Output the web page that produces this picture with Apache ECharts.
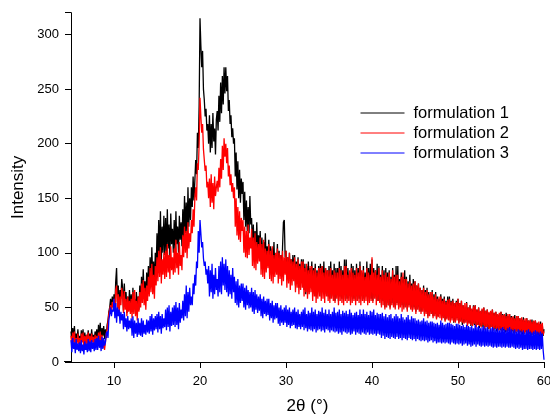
<!DOCTYPE html>
<html>
<head>
<meta charset="utf-8">
<script src="https://cdn.jsdelivr.net/npm/echarts@6/dist/echarts.min.js"></script>
<style>html,body{margin:0;padding:0;background:#fff}#c{width:550px;height:414px}</style>
</head>
<body>
<div id="c"></div>
<script>
// scan: 2θ from 5° to 60°, step 0.1° (10 readings per degree, one row per 5°)
const scanStart = 5;
const scanStep = 0.1;

const formulation1 = [
 28,18,31,22,33,17,26,20,30,19, 24,16,29,21,30,15,27,19,25,17, 29,18,26,17,30,21,25,19,28,22, 30,19,34,23,36,18,31,24,33,21, 30,22,34,38,46,50,58,49,60,52,
 62,51,74,86,55,70,50,66,58,76, 68,47,72,52,64,45,60,50,66,48, 62,46,68,50,58,45,64,52,60,48, 70,54,78,58,85,62,74,56,82,66, 88,66,96,72,105,76,92,70,100,84,
 118,90,130,96,138,92,124,100,134,98, 132,98,140,104,126,96,136,108,122,100, 130,102,138,108,124,100,134,112,128,106, 140,114,152,118,146,112,160,124,150,130, 160,142,170,148,166,185,172,210,196,235,
 315,290,270,285,250,240,225,232,212,218, 200,226,192,218,196,228,202,214,190,222, 230,212,244,220,256,228,262,236,270,246, 270,248,262,230,240,218,226,206,214,200, 205,170,192,158,184,150,176,146,168,154,
 165,130,156,124,148,120,142,118,152,126, 132,104,126,100,120,98,128,102,116,106, 120,92,114,88,110,96,118,90,106,94, 112,84,106,80,104,88,110,82,98,86, 108,80,102,84,98,78,106,128,130,96,
 102,78,96,74,100,80,94,76,98,82, 98,70,92,74,96,68,90,72,94,76, 94,66,90,62,88,70,92,64,86,68, 92,62,86,66,90,60,84,64,88,66, 90,60,88,64,92,62,86,66,84,60,
 88,58,92,62,84,60,90,56,86,64, 86,56,92,60,88,58,84,62,94,58, 94,58,86,62,82,56,90,60,88,58, 84,56,90,60,86,58,92,62,82,56, 88,58,82,60,92,56,86,62,90,58,
 94,56,86,60,84,58,90,56,88,60, 80,52,88,56,84,50,86,54,82,52, 84,50,78,54,86,52,80,50,88,54, 88,50,76,54,82,52,78,50,84,52, 78,48,74,52,80,50,72,48,76,50,
 74,46,70,50,72,48,68,46,66,50, 70,44,66,46,68,42,64,46,62,44, 66,42,62,44,64,40,60,42,58,44, 62,40,58,42,60,38,56,40,60,42, 60,38,56,40,58,36,54,38,56,40,
 58,36,54,38,56,34,52,36,50,38, 55,34,50,36,52,33,48,35,52,34, 52,32,48,34,50,31,46,33,48,32, 50,30,47,32,48,30,45,31,46,32, 48,29,45,30,46,28,44,30,43,29,
 46,28,44,29,43,27,45,28,42,29, 44,27,42,28,41,26,43,27,40,28, 42,26,40,27,39,25,41,26,38,27, 40,25,38,26,38,24,39,25,37,26, 38,23,36,24,35,22,37,23,34,24,
 30
];
const formulation2 = [
 24,15,27,18,28,14,22,17,26,16, 22,14,26,18,27,13,24,16,25,15, 27,16,24,14,26,18,23,15,25,17, 24,15,27,18,28,14,25,13,20,11, 18,26,30,36,44,48,52,46,55,50,
 58,46,66,70,48,62,44,60,52,68, 62,45,65,48,58,42,60,46,56,44, 58,40,64,44,66,42,56,38,60,46, 64,50,72,54,75,52,68,48,70,56, 78,60,86,64,90,62,80,58,88,70,
 96,74,102,78,105,72,94,80,100,76, 102,78,108,82,98,76,106,84,96,80, 104,82,112,86,100,80,110,88,98,84, 116,96,124,100,120,95,128,104,118,110, 130,118,140,124,150,160,148,182,176,200,
 242,225,210,218,195,185,175,180,160,165, 150,168,142,172,146,164,140,170,152,160, 166,156,178,160,186,168,198,176,205,188, 200,182,196,170,180,162,172,156,164,150, 160,124,150,116,142,112,138,110,132,120,
 130,100,124,96,120,95,126,98,114,104, 122,88,114,86,118,84,110,90,108,92, 114,80,108,78,112,76,104,82,102,86, 108,76,102,74,106,72,98,78,100,80, 104,72,100,76,98,70,102,74,96,80,
 102,68,96,72,100,66,94,70,92,74, 96,64,90,68,94,62,88,66,92,68, 92,60,86,64,90,58,84,62,88,64, 88,56,84,60,86,54,82,58,86,60, 86,56,88,58,82,54,86,60,84,56,
 84,54,86,58,80,56,84,54,82,58, 82,52,86,56,84,54,80,52,88,56, 88,54,80,56,84,52,86,54,82,56, 80,52,86,56,82,54,88,52,84,56, 84,54,78,56,86,52,82,54,80,56,
 96,54,82,58,84,52,80,56,86,54, 78,50,84,52,80,48,82,50,78,52, 82,48,76,52,84,50,78,48,80,52, 80,48,74,50,78,46,82,48,76,50, 76,46,72,50,74,48,70,46,72,48,
 74,44,70,48,72,46,68,44,66,46, 68,42,64,44,66,40,62,42,64,44, 64,40,60,42,62,39,58,41,60,40, 60,38,56,40,58,37,55,39,57,38, 58,36,55,38,56,37,54,36,55,38,
 58,35,54,37,56,36,52,35,54,36, 54,33,50,35,52,34,49,33,51,35, 52,32,48,34,50,33,47,32,49,34, 50,30,47,32,48,31,46,30,47,32, 48,29,45,31,46,30,44,29,45,30,
 46,28,43,30,44,29,42,28,44,29, 44,27,41,29,42,28,40,27,42,28, 42,26,40,28,41,27,39,26,40,27, 40,25,38,27,39,26,37,25,38,26, 38,25,36,26,37,25,35,26,36,25,
 28
];
const formulation3 = [
 20,9,22,12,18,8,21,11,17,10, 18,8,20,10,16,7,19,11,17,9, 21,10,19,9,20,12,18,10,21,11, 22,11,24,13,20,10,23,12,22,15, 18,26,28,22,38,44,50,42,48,46,
 58,40,54,36,50,42,48,35,46,38, 44,30,46,32,40,28,42,30,38,31, 40,24,42,22,38,26,36,23,40,25, 36,24,40,23,38,26,34,25,39,27, 38,26,42,28,44,25,40,29,42,30,
 44,27,46,30,42,26,44,31,40,32, 48,29,50,32,52,28,46,33,50,34, 52,32,55,34,50,30,54,36,48,40, 56,38,62,42,70,40,64,46,68,52, 60,52,72,62,80,70,92,86,120,100,
 130,118,105,110,95,88,92,80,85,72, 88,60,84,64,90,58,80,62,86,66, 76,60,88,64,92,62,96,70,90,66, 94,64,88,60,84,62,80,58,86,64, 78,54,74,52,76,50,70,54,72,56,
 72,50,68,48,70,52,66,49,64,50, 68,46,64,44,66,48,62,45,60,47, 62,42,58,40,60,44,56,42,58,43, 58,38,54,40,56,36,52,39,54,40, 54,35,50,33,52,36,48,34,50,36,
 52,32,48,34,50,31,46,33,48,34, 50,31,46,30,48,32,44,30,46,32, 48,29,50,31,44,28,47,30,45,29, 50,28,46,30,48,27,44,29,47,30, 46,28,50,29,45,27,48,30,44,29,
 48,27,44,29,46,28,50,27,45,28, 46,26,48,27,44,25,47,28,45,27, 47,26,44,27,48,25,45,26,43,28, 45,25,46,27,43,26,48,25,44,27, 48,26,44,25,46,27,43,25,47,26,
 46,25,48,26,43,24,45,26,44,25, 44,22,45,24,42,21,44,23,41,22, 43,21,44,23,40,22,42,21,44,23, 42,21,40,22,44,20,41,22,39,21, 41,20,43,22,39,21,42,20,40,21,
 40,19,38,21,39,20,37,19,38,20, 40,19,37,20,38,18,36,19,37,20, 37,18,36,19,35,17,36,18,34,18, 38,17,36,18,34,17,35,18,36,17, 36,16,35,18,34,17,33,16,35,17,
 35,16,34,17,33,15,34,16,32,17, 34,15,33,16,32,14,33,15,31,16, 34,14,32,16,33,15,31,14,32,15, 33,14,31,15,32,14,30,15,31,14, 32,13,31,14,30,13,31,14,29,14,
 31,13,32,14,30,13,29,14,31,13, 32,13,30,14,29,13,30,12,28,13, 30,12,29,13,28,11,29,12,27,12, 29,11,30,12,28,12,27,11,28,12, 29,11,28,12,27,11,28,12,26,11,
 2
];

const seriesNames = ['formulation 1', 'formulation 2', 'formulation 3'];
const seriesColors = ['#000000', '#ff0000', '#0000ff'];
const xTicks = [10, 20, 30, 40, 50, 60];

const allData = [formulation1, formulation2, formulation3];
const toPairs = arr => arr.map((v, i) => [scanStart + i * scanStep, v]);

const FONT = '"Liberation Sans", Arial, sans-serif';
const chart = echarts.init(document.getElementById('c'), null, {renderer: 'canvas'});
chart.setOption({
  animation: false,
  backgroundColor: '#fff',
  grid: {left: 71, right: 6, top: 12.7, bottom: 52, containLabel: false, outerBoundsMode: 'none'},
  legend: {
    orient: 'vertical', left: 355, top: 99.5,
    itemWidth: 44, itemHeight: 14, itemGap: 3,
    itemStyle: {opacity: 0},
    lineStyle: {width: 1},
    textStyle: {fontFamily: FONT, fontSize: 16.5, color: '#000', padding: [0, 0, 0, 4]},
    data: seriesNames
  },
  xAxis: {
    type: 'value', min: 5, max: 60,
    name: '2θ (°)', nameLocation: 'middle', nameGap: 36,
    nameTextStyle: {fontFamily: FONT, fontSize: 17, color: '#000'},
    axisLine: {show: true, lineStyle: {color: '#000', width: 1}},
    axisTick: {show: true, inside: false, length: 6, customValues: xTicks, lineStyle: {color: '#000'}},
    axisLabel: {fontFamily: FONT, fontSize: 13, color: '#000', margin: 13, customValues: xTicks},
    splitLine: {show: false}
  },
  yAxis: {
    type: 'value', min: 0, max: 320, interval: 50,
    name: 'Intensity', nameLocation: 'middle', nameGap: 43.5,
    nameTextStyle: {fontFamily: FONT, fontSize: 17, color: '#000'},
    axisLine: {show: true, lineStyle: {color: '#000', width: 1}},
    axisTick: {show: true, inside: false, length: 6, lineStyle: {color: '#000'}},
    axisLabel: {fontFamily: FONT, fontSize: 13, color: '#000', margin: 12,
      formatter: v => (v <= 300 ? String(v) : '')},
    splitLine: {show: false}
  },
  graphic: [{
    type: 'line', shape: {x1: 64, y1: 361.5, x2: 71, y2: 361.5},
    style: {stroke: '#000', lineWidth: 1}, silent: true
  }],
  series: allData.map((d, k) => ({
    name: seriesNames[k], type: 'line', data: toPairs(d),
    symbol: 'none', showSymbol: false,
    lineStyle: {color: seriesColors[k], width: 1.3},
    itemStyle: {color: seriesColors[k]},
    z: 2 + k
  }))
});
</script>
</body>
</html>
